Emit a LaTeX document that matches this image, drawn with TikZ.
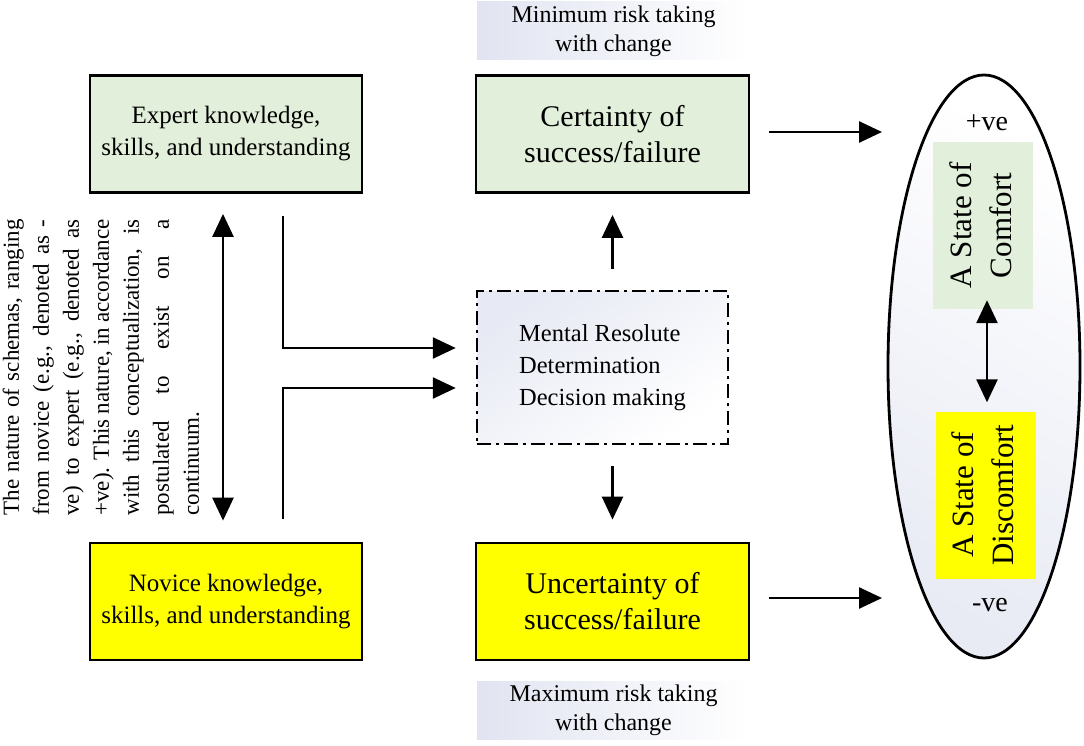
\documentclass[tikz,border=0pt]{standalone}
\usepackage{fontspec}
\setmainfont{Liberation Serif}
\usetikzlibrary{arrows.meta,shapes.geometric,calc}
\definecolor{lgreen}{HTML}{E2EFDA}
\definecolor{lblue}{HTML}{E1E4F1}
\definecolor{yel}{HTML}{FFFF00}
\begin{document}
\begin{tikzpicture}[x=1pt,y=-1pt,
  box/.style={draw, line width=2.8pt, minimum width=272pt, minimum height=117pt, align=center, inner sep=0pt},
  smalltxt/.style={font=\fontsize{25}{32}\selectfont},
  bigtxt/.style={font=\fontsize{30}{36}\selectfont},
  arr/.style={line width=2.6pt, -{Triangle[length=23pt,width=21pt]}},
  darr/.style={line width=2.6pt, {Triangle[length=23pt,width=21pt]}-{Triangle[length=23pt,width=21pt]}},
  risklab/.style={minimum width=273pt, minimum height=58pt, inner sep=0pt, align=center, left color=lblue, right color=white, font=\fontsize{24}{29}\selectfont},
  statebox/.style={minimum width=100pt, minimum height=167pt, inner sep=0pt, font=\fontsize{31}{40}\selectfont}
]
\useasboundingbox (0,0) rectangle (1084,746);

% left boxes
\node[box, fill=lgreen, smalltxt] (expert) at (226,134) {Expert knowledge,\\skills, and understanding};
\node[box, fill=yel, smalltxt] (novice) at (226,601.5) {Novice knowledge,\\skills, and understanding};

% middle boxes
\node[box, fill=lgreen, bigtxt, minimum width=273pt] (certainty) at (612.5,134) {Certainty of\\success/failure};
\node[box, fill=yel, bigtxt, minimum width=273pt] (uncertainty) at (612.5,601.5) {Uncertainty of\\success/failure};

\node[draw, line width=2.5pt, dash pattern=on 14pt off 5pt on 3pt off 5pt,
      minimum width=251pt, minimum height=153pt, inner sep=0pt, align=left,
      top color=lblue!80, bottom color=white, shading angle=35, font=\fontsize{24.5}{32}\selectfont]
      (mental) at (602.5,367.5) {Mental Resolute\\Determination\\Decision making};

% risk labels
\node[risklab] (minrisk) at (613.5,31) {Minimum risk taking\\with change};
\node[risklab] (maxrisk) at (613.5,710) {Maximum risk taking\\with change};

% rotated paragraph
\node[inner sep=0pt] (para) at (103,367.5) {\rotatebox{90}{\fontsize{23}{30}\selectfont
  \begin{tabular}{@{}l@{}}
  \makebox[296pt][s]{The nature of schemas, ranging}\\
  \makebox[296pt][s]{from novice (e.g., denoted as -}\\
  \makebox[296pt][s]{ve) to expert (e.g., denoted as}\\
  \makebox[296pt][s]{+ve). This nature, in accordance}\\
  \makebox[296pt][s]{with this conceptualization, is}\\
  \makebox[296pt][s]{postulated to exist on a}\\
  continuum.
  \end{tabular}}};

% ellipse
\node[ellipse, draw, line width=2.8pt, minimum width=192pt, minimum height=583pt, inner sep=0pt,
      top color=white, bottom color=lblue!75, shading angle=-30] (ell) at (984,366.5) {};
\node[font=\fontsize{28}{30}\selectfont] (pos) at (987,123) {+ve};
\node[font=\fontsize{28}{30}\selectfont] (neg) at (990,605) {-ve};
\node[statebox, fill=lgreen] (comfort) at (983,225.5) {\rotatebox{90}{\begin{tabular}{@{}c@{}}A State of\\Comfort\end{tabular}}};
\node[statebox, fill=yel] (discomfort) at (985.5,495) {\rotatebox{90}{\begin{tabular}{@{}c@{}}A State of\\Discomfort\end{tabular}}};

\coordinate (p1) at (882,132);
\coordinate (p2) at (882,598);

% connectors
\draw[arr] ($(mental.north -| certainty.south)+(0,-21)$) -- ($(certainty.south)+(0,21)$);
\draw[arr] ($(mental.south -| uncertainty.north)+(0,21)$) -- ($(uncertainty.north)+(0,-22)$);
\draw[darr] ($(expert.south)+(-3,20)$) -- ($(novice.north)+(-3,-21)$);
\draw[arr] ($(expert.south)+(57,22)$) |- ($(mental.west)+(-20,-19.5)$);
\draw[arr] ($(novice.north)+(57,-23)$) |- ($(mental.west)+(-20,20.5)$);
\draw[arr] ($(certainty.east)+(19,-2)$) -- (p1);
\draw[arr] ($(uncertainty.east)+(19,-3.5)$) -- (p2);
\draw[darr] ($(comfort.south)+(4,-9)$) -- ($(discomfort.north)+(1.5,-9)$);
\end{tikzpicture}
\end{document}
